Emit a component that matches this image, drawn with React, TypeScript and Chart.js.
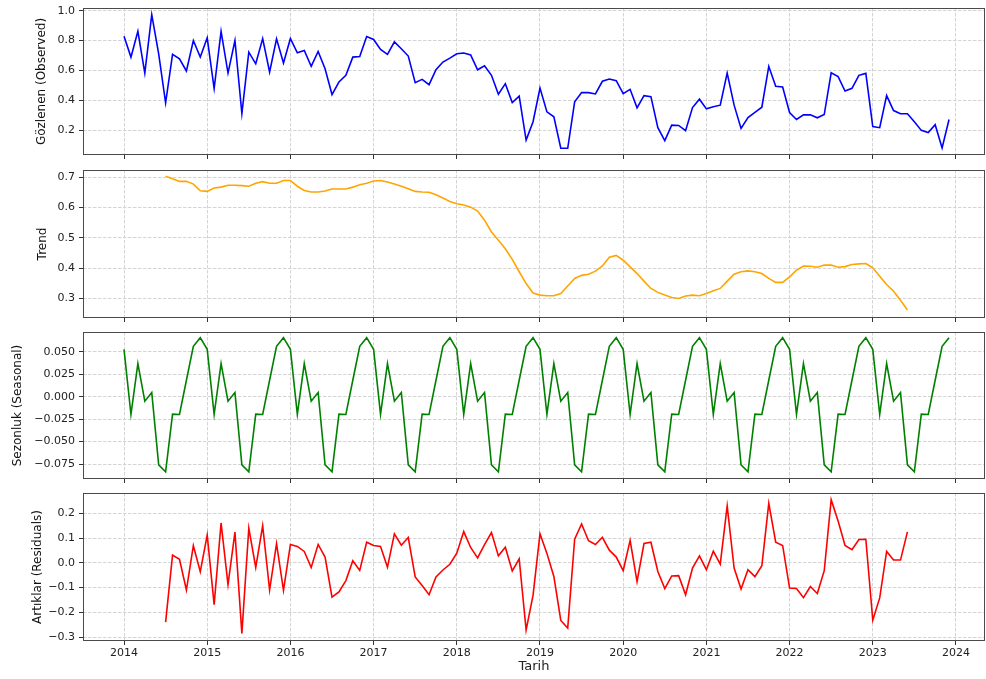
import React, { useEffect, useRef } from "react";
import { Chart, registerables } from "chart.js";

Chart.register(...registerables);

// ---------- DATA ----------
const START_YEAR = 2014; // monthly series start: 2014-01
const yearTicks = [2014, 2015, 2016, 2017, 2018, 2019, 2020, 2021, 2022, 2023, 2024];
const yearTickLabels = ["2014", "2015", "2016", "2017", "2018", "2019", "2020", "2021", "2022", "2023", "2024"];

// Observed (Gözlenen), 2014-01 .. 2023-12
const observed = [
  0.829, 0.689, 0.862, 0.582, 0.973, 0.711, 0.382, 0.707, 0.678, 0.596, 0.8, 0.689,
  0.818, 0.478, 0.862, 0.582, 0.8, 0.311, 0.722, 0.644, 0.813, 0.589, 0.811, 0.649,
  0.813, 0.718, 0.733, 0.627, 0.727, 0.611, 0.438, 0.522, 0.567, 0.689, 0.693, 0.827,
  0.807, 0.74, 0.707, 0.791, 0.745, 0.696, 0.518, 0.54, 0.504, 0.604, 0.656, 0.682,
  0.711, 0.716, 0.704, 0.604, 0.631, 0.567, 0.44, 0.511, 0.384, 0.427, 0.133, 0.256,
  0.482, 0.322, 0.289, 0.078, 0.078, 0.389, 0.451, 0.451, 0.442, 0.527, 0.542, 0.531,
  0.444, 0.473, 0.349, 0.431, 0.424, 0.216, 0.129, 0.233, 0.231, 0.196, 0.351, 0.407,
  0.342, 0.356, 0.367, 0.582, 0.367, 0.211, 0.284, 0.318, 0.353, 0.627, 0.493, 0.489,
  0.318, 0.271, 0.302, 0.302, 0.282, 0.304, 0.584, 0.558, 0.462, 0.48, 0.567, 0.58,
  0.224, 0.216, 0.431, 0.331, 0.309, 0.309, 0.256, 0.198, 0.184, 0.236, 0.08, 0.271,
];

// Trend, 2014-07 .. 2023-06
const trendStartMonth = 6;
const trend = [
  0.703, 0.695, 0.686, 0.686, 0.677, 0.655,
  0.653, 0.664, 0.667, 0.673, 0.673, 0.672, 0.67, 0.68, 0.685, 0.68, 0.68, 0.689,
  0.689, 0.67, 0.656, 0.651, 0.651, 0.654, 0.661, 0.661, 0.661, 0.667, 0.675, 0.68,
  0.687, 0.689, 0.684, 0.677, 0.67, 0.662, 0.653, 0.651, 0.65, 0.642, 0.631, 0.62,
  0.612, 0.608, 0.601, 0.588, 0.558, 0.519, 0.492, 0.464, 0.429, 0.388, 0.349, 0.318,
  0.311, 0.309, 0.309, 0.316, 0.341, 0.366, 0.376, 0.38, 0.39, 0.407, 0.436, 0.442,
  0.426, 0.404, 0.382, 0.357, 0.333, 0.32, 0.311, 0.303, 0.3, 0.308, 0.311, 0.309,
  0.316, 0.325, 0.333, 0.357, 0.38, 0.388, 0.391, 0.388, 0.382, 0.366, 0.353, 0.353,
  0.371, 0.393, 0.407, 0.406, 0.403, 0.41, 0.41, 0.403, 0.405, 0.412, 0.414, 0.415,
  0.401, 0.373, 0.346, 0.324, 0.294, 0.262,
];

// Seasonal (Sezonluk), 2014-01 .. 2023-12
const seasonal = [
  0.053, -0.0197, 0.037, -0.0049, 0.0048, -0.076, -0.0836, -0.0193, -0.0197, 0.0185, 0.0563, 0.066,
  0.053, -0.0197, 0.037, -0.0049, 0.0048, -0.076, -0.0836, -0.0193, -0.0197, 0.0185, 0.0563, 0.066,
  0.053, -0.0197, 0.037, -0.0049, 0.0048, -0.076, -0.0836, -0.0193, -0.0197, 0.0185, 0.0563, 0.066,
  0.053, -0.0197, 0.037, -0.0049, 0.0048, -0.076, -0.0836, -0.0193, -0.0197, 0.0185, 0.0563, 0.066,
  0.053, -0.0197, 0.037, -0.0049, 0.0048, -0.076, -0.0836, -0.0193, -0.0197, 0.0185, 0.0563, 0.066,
  0.053, -0.0197, 0.037, -0.0049, 0.0048, -0.076, -0.0836, -0.0193, -0.0197, 0.0185, 0.0563, 0.066,
  0.053, -0.0197, 0.037, -0.0049, 0.0048, -0.076, -0.0836, -0.0193, -0.0197, 0.0185, 0.0563, 0.066,
  0.053, -0.0197, 0.037, -0.0049, 0.0048, -0.076, -0.0836, -0.0193, -0.0197, 0.0185, 0.0563, 0.066,
  0.053, -0.0197, 0.037, -0.0049, 0.0048, -0.076, -0.0836, -0.0193, -0.0197, 0.0185, 0.0563, 0.066,
  0.053, -0.0197, 0.037, -0.0049, 0.0048, -0.076, -0.0836, -0.0193, -0.0197, 0.0185, 0.0563, 0.066,
];

// Residuals (Artıklar), 2014-07 .. 2023-06
const residStartMonth = 6;
const residual = [
  -0.24, 0.031, 0.014, -0.11, 0.069, -0.036,
  0.112, -0.169, 0.161, -0.088, 0.124, -0.285, 0.14, -0.019, 0.15, -0.11, 0.077, -0.111,
  0.074, 0.066, 0.046, -0.019, 0.074, 0.023, -0.139, -0.118, -0.072, 0.008, -0.031, 0.083,
  0.07, 0.066, -0.018, 0.117, 0.071, 0.102, -0.057, -0.092, -0.129, -0.057, -0.029, -0.006,
  0.039, 0.126, 0.062, 0.02, 0.073, 0.122, 0.028, 0.063, -0.033, 0.016, -0.272, -0.131,
  0.117, 0.038, -0.055, -0.233, -0.264, 0.095, 0.157, 0.089, 0.074, 0.103, 0.051, 0.023,
  -0.032, 0.091, -0.076, 0.078, 0.083, -0.035, -0.104, -0.053, -0.052, -0.129, -0.021, 0.028,
  -0.028, 0.047, -0.005, 0.23, -0.021, -0.106, -0.028, -0.056, -0.012, 0.24, 0.083, 0.07,
  -0.102, -0.104, -0.141, -0.096, -0.124, -0.032, 0.255, 0.169, 0.07, 0.053, 0.094, 0.095,
  -0.232, -0.142, 0.046, 0.011, 0.011, 0.125,
];

const observedTicks = [0.2, 0.4, 0.6, 0.8, 1.0];
const observedTickLabels = ["0.2", "0.4", "0.6", "0.8", "1.0"];
const trendTicks = [0.3, 0.4, 0.5, 0.6, 0.7];
const trendTickLabels = ["0.3", "0.4", "0.5", "0.6", "0.7"];
const seasonalTicks = [-0.075, -0.05, -0.025, 0, 0.025, 0.05];
const seasonalTickLabels = ["\u22120.075", "\u22120.050", "\u22120.025", "0.000", "0.025", "0.050"];
const residTicks = [-0.3, -0.2, -0.1, 0, 0.1, 0.2];
const residTickLabels = ["\u22120.3", "\u22120.2", "\u22120.1", "0.0", "0.1", "0.2"];

// ---------- LAYOUT / STYLE ----------
const X_MIN = 2013.507;
const X_MAX = 2024.349;
const FONT = "'DejaVu Sans', sans-serif";
const GRID_COLOR = "#d4d4d4";
const GRID_DASH = [3.5, 1.5];

type PanelCfg = {
  title: string;
  color: string;
  values: number[];
  start: number;
  yMin: number;
  yMax: number;
  ticks: number[];
  tickLabels: string[];
  top: number;
  height: number;
  titlePad: number;
  showX: boolean;
  xHeight: number;
};

const panels: PanelCfg[] = [
  {
    title: "Gözlenen (Observed)", color: "#0000ff", values: observed, start: 0,
    yMin: 0.033, yMax: 1.018, ticks: observedTicks, tickLabels: observedTickLabels,
    top: 0, height: 163, titlePad: 35, showX: false, xHeight: 8,
  },
  {
    title: "Trend", color: "#ffa500", values: trend, start: trendStartMonth,
    yMin: 0.2355, yMax: 0.7235, ticks: trendTicks, tickLabels: trendTickLabels,
    top: 162, height: 164, titlePad: 36, showX: false, xHeight: 8,
  },
  {
    title: "Sezonluk (Seasonal)", color: "#008000", values: seasonal, start: 0,
    yMin: -0.0917, yMax: 0.0723, ticks: seasonalTicks, tickLabels: seasonalTickLabels,
    top: 324, height: 163, titlePad: 11, showX: false, xHeight: 8,
  },
  {
    title: "Artıklar (Residuals)", color: "#ff0000", values: residual, start: residStartMonth,
    yMin: -0.316, yMax: 0.282, ticks: residTicks, tickLabels: residTickLabels,
    top: 485, height: 194, titlePad: 31, showX: true, xHeight: 38,
  },
];

const framePlugin = {
  id: "frame",
  afterDraw(chart: any) {
    const { ctx, chartArea } = chart;
    const l = Math.round(chartArea.left) + 0.5;
    const t = Math.round(chartArea.top) + 0.5;
    const r = Math.round(chartArea.right) - 0.5;
    const b = Math.round(chartArea.bottom) - 0.5;
    ctx.save();
    ctx.setLineDash([]);
    ctx.strokeStyle = "#4a4a4a";
    ctx.lineWidth = 1;
    ctx.strokeRect(l, t, r - l, b - t);
    ctx.restore();
  },
};

function Panel({ cfg }: { cfg: PanelCfg }) {
  const ref = useRef<HTMLCanvasElement | null>(null);
  useEffect(() => {
    if (!ref.current) return;
    const points = cfg.values.map((v, k) => ({ x: START_YEAR + (cfg.start + k) / 12, y: v }));
    const chart = new Chart(ref.current, {
      type: "line",
      data: {
        datasets: [
          {
            data: points,
            borderColor: cfg.color,
            backgroundColor: cfg.color,
            borderWidth: 1.6,
            pointRadius: 0,
            pointHoverRadius: 0,
            tension: 0,
            fill: false,
          },
        ],
      },
      options: {
        animation: false,
        responsive: false,
        maintainAspectRatio: false,
        events: [],
        plugins: { legend: { display: false }, tooltip: { enabled: false } },
        layout: { padding: { top: 8, right: 1, left: 0, bottom: 0 } },
        scales: {
          x: {
            type: "linear",
            min: X_MIN,
            max: X_MAX,
            afterBuildTicks: (ax: any) => {
              ax.ticks = yearTicks.map((v) => ({ value: v }));
            },
            afterFit: (ax: any) => {
              ax.height = cfg.xHeight;
              ax.paddingLeft = 0;
              ax.paddingRight = 0;
              ax.paddingTop = 0;
              ax.paddingBottom = 0;
            },
            ticks: {
              display: cfg.showX,
              autoSkip: false,
              maxRotation: 0,
              padding: 2,
              color: "#222",
              font: { family: FONT, size: 11 },
              callback: (_v: any, i: number) => yearTickLabels[i],
            },
            grid: {
              color: GRID_COLOR,
              lineWidth: 1,
              drawTicks: true,
              tickLength: 4,
              tickColor: "#333",
              tickWidth: 1,
              tickBorderDash: [],
              borderDash: GRID_DASH,
            } as any,
            border: { display: false, dash: GRID_DASH },
            title: {
              display: cfg.showX,
              text: "Tarih",
              color: "#222",
              font: { family: FONT, size: 13 },
              padding: { top: 0, bottom: 5 },
            },
          },
          y: {
            type: "linear",
            min: cfg.yMin,
            max: cfg.yMax,
            afterBuildTicks: (ax: any) => {
              ax.ticks = cfg.ticks.map((v) => ({ value: v }));
            },
            afterFit: (ax: any) => {
              ax.width = 83;
              ax.paddingLeft = 0;
              ax.paddingRight = 0;
              ax.paddingTop = 0;
              ax.paddingBottom = 0;
            },
            ticks: {
              autoSkip: false,
              padding: 4,
              color: "#222",
              font: { family: FONT, size: 11 },
              callback: (_v: any, i: number) => cfg.tickLabels[i],
            },
            grid: {
              color: GRID_COLOR,
              lineWidth: 1,
              drawTicks: true,
              tickLength: 4,
              tickColor: "#333",
              tickWidth: 1,
              tickBorderDash: [],
              borderDash: GRID_DASH,
            } as any,
            border: { display: false, dash: GRID_DASH },
            title: {
              display: true,
              text: cfg.title,
              color: "#111",
              font: { family: FONT, size: 12 },
              padding: { top: cfg.titlePad, bottom: 0 },
            },
          },
        },
      } as any,
      plugins: [framePlugin],
    });
    return () => chart.destroy();
  }, [cfg]);

  return (
    <canvas
      ref={ref}
      width={986}
      height={cfg.height}
      style={{ position: "absolute", left: 0, top: cfg.top, width: 986, height: cfg.height }}
    />
  );
}

export default function App() {
  return (
    <div
      style={{
        position: "fixed",
        left: 0,
        top: 0,
        width: 986,
        height: 679,
        background: "#ffffff",
        overflow: "hidden",
      }}
    >
      {panels.map((p) => (
        <Panel key={p.title} cfg={p} />
      ))}
    </div>
  );
}
